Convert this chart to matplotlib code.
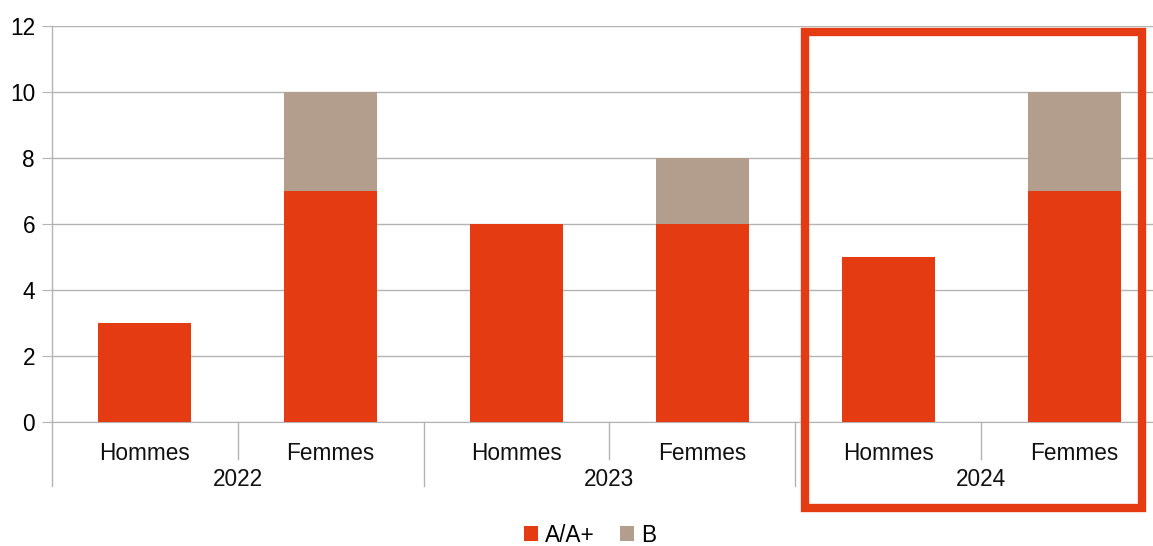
import matplotlib
matplotlib.use("Agg")
import matplotlib.pyplot as plt
from matplotlib.patches import Rectangle
from matplotlib.lines import Line2D

plt.rcParams['font.family'] = ['Liberation Sans', 'DejaVu Sans']

years = ['2022', '2023', '2024']
genders = ['Hommes', 'Femmes']
serie_aa = [3, 7, 6, 6, 5, 7]   # A/A+
serie_b = [0, 3, 0, 2, 0, 3]    # B

col_aa = '#E53B13'
col_b = '#B39E8E'
grid_col = '#B3B3B3'
fs = 16.3

W, H = 1153, 546
fig = plt.figure(figsize=(W / 100, H / 100), dpi=100)

# plot area in pixels: x 52..1167 (runs past the right edge), y 26..422
x0, x1, y0, y1 = 52, 1167, 26, 422
ax = fig.add_axes([x0 / W, (H - y1) / H, (x1 - x0) / W, (y1 - y0) / H])

n = len(serie_aa)
xs = list(range(n))
ax.bar(xs, serie_aa, width=0.5, color=col_aa, label='A/A+', zorder=3)
ax.bar(xs, serie_b, width=0.5, bottom=serie_aa, color=col_b, label='B', zorder=3)

ax.set_xlim(-0.5, n - 0.5)
ax.set_ylim(0, 12)
ax.set_yticks(range(0, 13, 2))
ax.yaxis.grid(True, color=grid_col, linewidth=1)
ax.set_axisbelow(True)
ax.tick_params(axis='y', length=7.2, color=grid_col, labelsize=fs, pad=5)
ax.set_xticks([])
for s in ['top', 'right', 'left']:
    ax.spines[s].set_visible(False)
ax.spines['bottom'].set_color(grid_col)

# two-level category axis
px = 1 / (y1 - y0)
tr = ax.get_xaxis_transform()
short_y = -37 * px
long_y = -64 * px
ax.add_line(Line2D([-0.5, -0.5], [long_y, 1], transform=tr, color=grid_col,
                   linewidth=1, clip_on=False))
for i in range(n):
    ax.text(i, -32 * px, genders[i % 2], transform=tr, ha='center', va='center',
            fontsize=fs, color='#111111')
for k in range(1, n):
    bottom = long_y if k % 2 == 0 else short_y
    ax.add_line(Line2D([k - 0.5, k - 0.5], [bottom, 0], transform=tr,
                       color=grid_col, linewidth=1, clip_on=False))
for j, yr in enumerate(years):
    ax.text(2 * j + 0.5, -58 * px, yr, transform=tr, ha='center', va='center',
            fontsize=fs, color='#111111')

# highlight frame around 2024
fig.add_artist(Rectangle((805 / W, (H - 508) / H), (1142 - 805) / W, (508 - 32) / H,
                         transform=fig.transFigure, fill=False,
                         edgecolor=col_aa, linewidth=6))

fig.legend(loc='center', bbox_to_anchor=(590 / W, 1 - 535 / H), ncol=2,
           frameon=False, fontsize=fs, handlelength=0.65, handleheight=0.65,
           handletextpad=0.3, columnspacing=1.1, borderpad=0.1)

fig.savefig('out.png', dpi=100)
